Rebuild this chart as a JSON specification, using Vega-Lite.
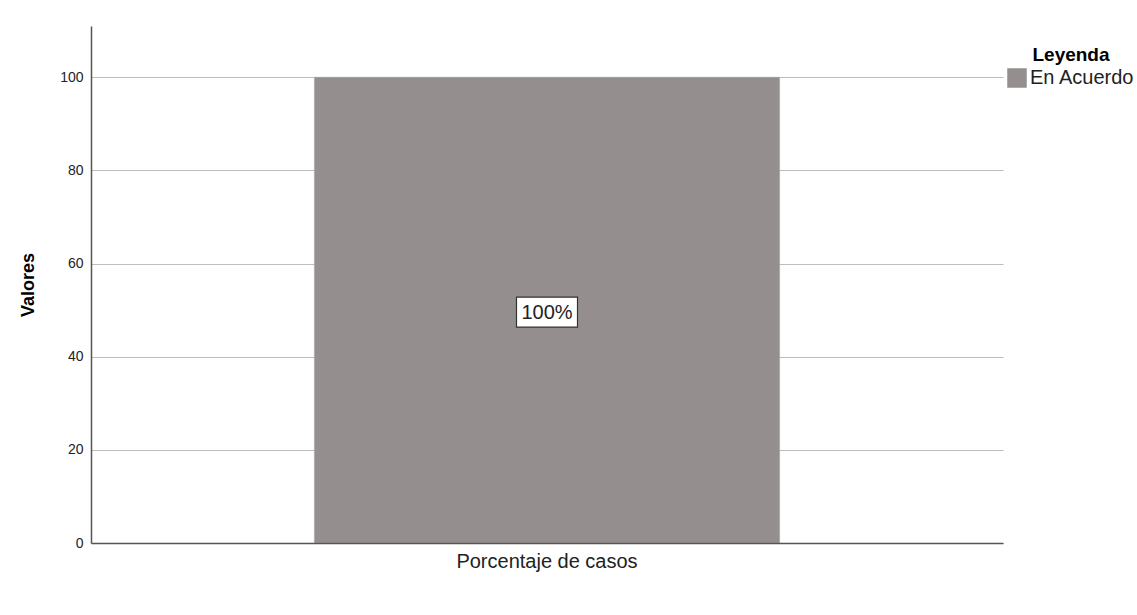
{
  "$schema": "https://vega.github.io/schema/vega-lite/v6.json",
  "autosize": {"type": "none"},
  "padding": {"left": 91, "top": 26, "right": 134, "bottom": 72},
  "width": 912,
  "height": 517,
  "background": "white",
  "config": {
    "font": "Liberation Sans",
    "view": {"stroke": null},
    "axis": {"labelFont": "Liberation Sans", "titleFont": "Liberation Sans"}
  },
  "data": {"values": [{"categoria": "Porcentaje de casos", "serie": "En Acuerdo", "valor": 100, "etiqueta": "100%"}]},
  "encoding": {
    "x": {
      "field": "categoria",
      "type": "nominal",
      "scale": {"paddingInner": 0, "paddingOuter": 0.48},
      "axis": {"title": null, "labelAngle": 0, "labelFontSize": 20, "labelColor": "#222", "labelLimit": 500, "ticks": false, "labelPadding": 8, "domainColor": "#555", "domainWidth": 1.5, "grid": false, "zindex": 2}
    }
  },
  "layer": [
    {
      "mark": {"type": "bar", "stroke": "#a8a4a2", "strokeWidth": 0.5},
      "encoding": {
        "y": {
          "field": "valor",
          "type": "quantitative",
          "scale": {"domain": [0, 111], "nice": false},
          "axis": {"title": "Valores", "titleFontSize": 18, "titleFontWeight": "bold", "titleColor": "#000", "titlePadding": 22, "values": [0, 20, 40, 60, 80, 100], "labelFontSize": 14, "labelColor": "#222", "ticks": false, "labelPadding": 8, "domainColor": "#555", "domainWidth": 1.5, "gridColor": "#bdbdbd", "gridWidth": 1}
        },
        "color": {
          "field": "serie",
          "type": "nominal",
          "scale": {"range": ["#948f8e"]},
          "legend": {"title": "Leyenda", "orient": "none", "legendX": 916, "legendY": 20, "titleFontSize": 19, "titleFontWeight": "bold", "titleColor": "#000", "titleAnchor": "middle", "titlePadding": 3, "labelFontSize": 20, "labelColor": "#222", "symbolType": "square", "symbolSize": 380, "symbolStrokeWidth": 0, "labelOffset": 3, "labelLimit": 300}
        }
      }
    },
    {
      "mark": {"type": "point", "shape": "M-1,-0.49H1V0.49H-1Z", "size": 3721, "filled": true, "fill": "white", "stroke": "#333", "strokeWidth": 1.2, "opacity": 1, "yOffset": 2},
      "encoding": {"y": {"datum": 50, "type": "quantitative"}}
    },
    {
      "mark": {"type": "text", "fontSize": 20, "color": "#222", "baseline": "middle", "align": "center", "yOffset": 3},
      "encoding": {"y": {"datum": 50, "type": "quantitative"}, "text": {"field": "etiqueta"}}
    }
  ]
}
